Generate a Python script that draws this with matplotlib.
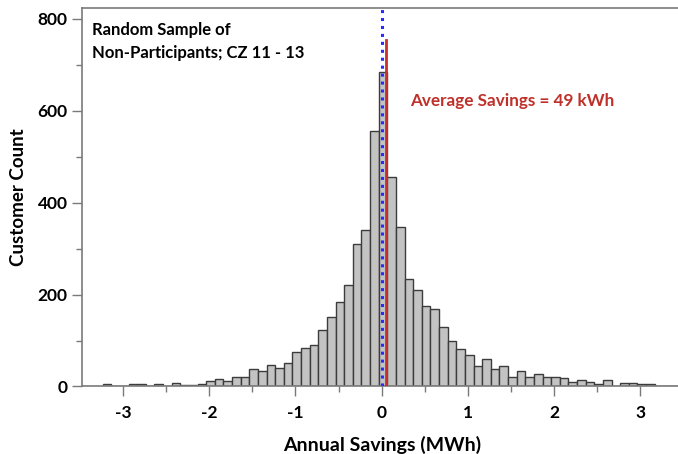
import numpy as np
import matplotlib
matplotlib.use("Agg")
import matplotlib.pyplot as plt
from matplotlib.ticker import MultipleLocator

plt.rcParams["font.family"] = ["Lato", "DejaVu Sans"]
plt.rcParams["font.weight"] = "bold"
plt.rcParams["axes.unicode_minus"] = False

# histogram of annual savings, 0.1 MWh bins
bin_width = 0.1
first_edge = -3.235
counts = [5, 0, 2, 6, 6, 2, 5, 1, 7, 4, 4, 5, 12, 17, 12, 21, 21, 38, 34, 47,
          41, 52, 76, 84, 90, 123, 152, 184, 220, 311, 341, 557, 685, 455, 346,
          233, 209, 175, 168, 129, 98, 82, 69, 44, 60, 39, 44, 20, 34, 20, 28,
          21, 20, 18, 9, 15, 10, 5, 14, 1, 8, 7, 5, 5, 2, 2, 2]
avg_savings = 0.049   # MWh
avg_line_top = 754
zero_line = 0.0

lefts = first_edge + bin_width * np.arange(len(counts))

fig = plt.figure(figsize=(6.78, 4.54), dpi=100)
ax = fig.add_axes([0.1205, 0.1487, 0.8795, 0.833])

ax.bar(lefts, counts, width=bin_width, align='edge', color='#c3c3c3',
       edgecolor='#3c3c3c', linewidth=1.0, zorder=2)

ax.plot([avg_savings, avg_savings], [0, avg_line_top], color='#c8302c',
        linewidth=2.0, zorder=3)
ax.axvline(zero_line, color='#2a2aff', linestyle=(0, (1, 1.6)), linewidth=2.2,
           zorder=4)

xmin, xmax = -3.478, 3.435
ax.set_xlim(xmin, xmax)
ax.set_ylim(0, 823)

ax.xaxis.set_major_locator(MultipleLocator(1))
ax.xaxis.set_minor_locator(MultipleLocator(0.5))
ax.yaxis.set_major_locator(MultipleLocator(200))
ax.yaxis.set_minor_locator(MultipleLocator(100))

for s in ['left', 'top', 'bottom']:
    ax.spines[s].set_color('#7a7a7a')
    ax.spines[s].set_linewidth(1.2)
ax.spines['right'].set_visible(False)

ax.tick_params(which='major', direction='out', length=7, width=1,
               color='#7a7a7a', labelsize=12.5, pad=3)
ax.tick_params(which='minor', direction='out', length=4, width=1,
               color='#7a7a7a')
ax.tick_params(axis='x', which='major', pad=6.5)

ax.set_xlabel('Annual Savings (MWh)', fontsize=14, fontweight='bold')
ax.xaxis.label.set_verticalalignment('center')
ax.xaxis.set_label_coords((0 - xmin) / (xmax - xmin), -0.155)
ax.set_ylabel('Customer Count', fontsize=13.5, fontweight='bold')
ax.yaxis.label.set_verticalalignment('center')
ax.yaxis.set_label_coords(-0.106, 0.5)

ax.text(0.017, 0.963, 'Random Sample of\nNon-Participants; CZ 11 - 13',
        transform=ax.transAxes, ha='left', va='top', fontsize=12,
        fontweight='bold', linespacing=1.55)
ax.text(0.5506, 0.755, 'Average Savings = 49 kWh', color='#c0302a',
        transform=ax.transAxes, ha='left', va='center', fontsize=12.3,
        fontweight='bold')

fig.savefig('out.png', dpi=100)
